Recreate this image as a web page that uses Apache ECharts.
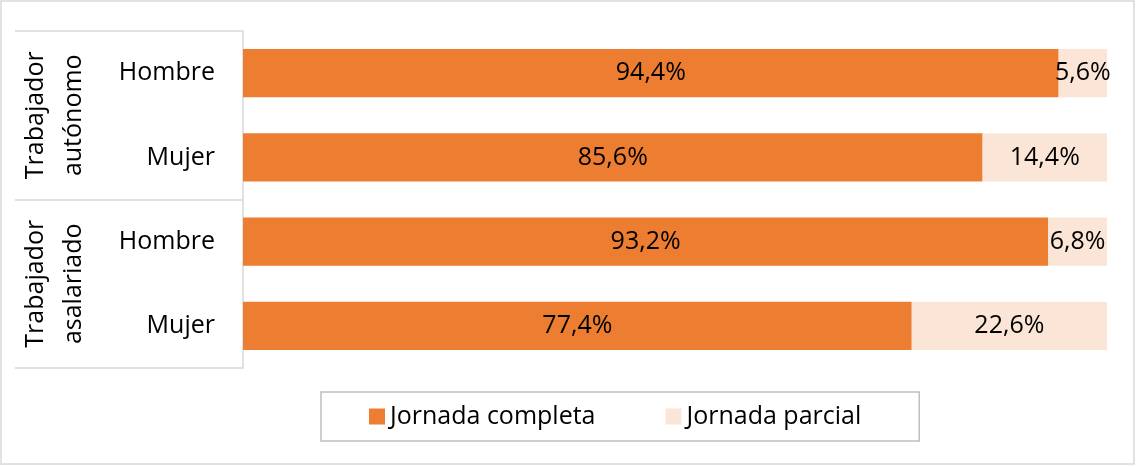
<!DOCTYPE html>
<html>
<head>
<meta charset="utf-8">
<script src="https://cdn.jsdelivr.net/npm/echarts@6/dist/echarts.min.js"></script>
<style>
html, body { margin: 0; padding: 0; background: #fff; }
#chart { width: 1136px; height: 466px; }
</style>
</head>
<body>
<div id="chart"></div>
<script>
// datos
var grupos = ['Trabajador\nautónomo', 'Trabajador\nasalariado'];
var categorias = ['Hombre', 'Mujer', 'Hombre', 'Mujer'];
var jornadaCompleta = [94.4, 85.6, 93.2, 77.4];
var jornadaParcial = [5.6, 14.4, 6.8, 22.6];
var series_nombres = ['Jornada completa', 'Jornada parcial'];

var FONT = 'Open Sans';
var FS = 25;
var GRIS = '#d9d9d9';

function pct(p) {
    return p.value.toFixed(1).replace('.', ',') + '%';
}

var chart = echarts.init(document.getElementById('chart'));

var option = {
    animation: false,
    textStyle: { fontFamily: FONT },
    graphic: [{
        type: 'rect',
        shape: { x: 1, y: 1, width: 1133, height: 463 },
        style: { fill: 'none', stroke: GRIS, lineWidth: 1.5 },
        silent: true
    }],
    grid: { left: 243, right: 29, top: 31, bottom: 98 },
    legend: {
        data: series_nombres,
        left: 321,
        top: 392,
        padding: [12, 58, 12, 48],
        itemGap: 70,
        itemWidth: 16,
        itemHeight: 16,
        icon: 'rect',
        borderColor: '#bfbfbf',
        borderWidth: 1.5,
        textStyle: { fontFamily: FONT, fontSize: FS, color: '#000' }
    },
    xAxis: {
        type: 'value',
        min: 0,
        max: 100,
        show: false
    },
    yAxis: [{
        type: 'category',
        data: categorias,
        inverse: true,
        axisLine: { show: false },
        axisTick: { show: false },
        axisLabel: { margin: 28, fontSize: FS, color: '#000', fontFamily: FONT }
    }, {
        type: 'category',
        data: grupos,
        inverse: true,
        position: 'left',
        offset: 0,
        axisLine: { show: true, lineStyle: { color: GRIS, width: 1.5 } },
        axisTick: { show: true, interval: 0, length: 228, lineStyle: { color: GRIS, width: 1.5 } },
        axisLabel: {
            interval: 0,
            rotate: 90,
            margin: 150,
            lineHeight: 38,
            fontSize: FS,
            color: '#000',
            fontFamily: FONT
        }
    }],
    series: [{
        name: series_nombres[0],
        type: 'bar',
        stack: 'total',
        yAxisIndex: 0,
        barWidth: '57%',
        itemStyle: { color: '#ED7D31' },
        label: { show: true, position: 'inside', formatter: pct, fontSize: FS, color: '#000', fontFamily: FONT },
        data: jornadaCompleta
    }, {
        name: series_nombres[1],
        type: 'bar',
        stack: 'total',
        yAxisIndex: 0,
        barWidth: '57%',
        itemStyle: { color: '#FBE5D6' },
        label: { show: true, position: 'inside', formatter: pct, fontSize: FS, color: '#000', fontFamily: FONT },
        data: jornadaParcial
    }]
};

chart.setOption(option);
</script>
</body>
</html>
